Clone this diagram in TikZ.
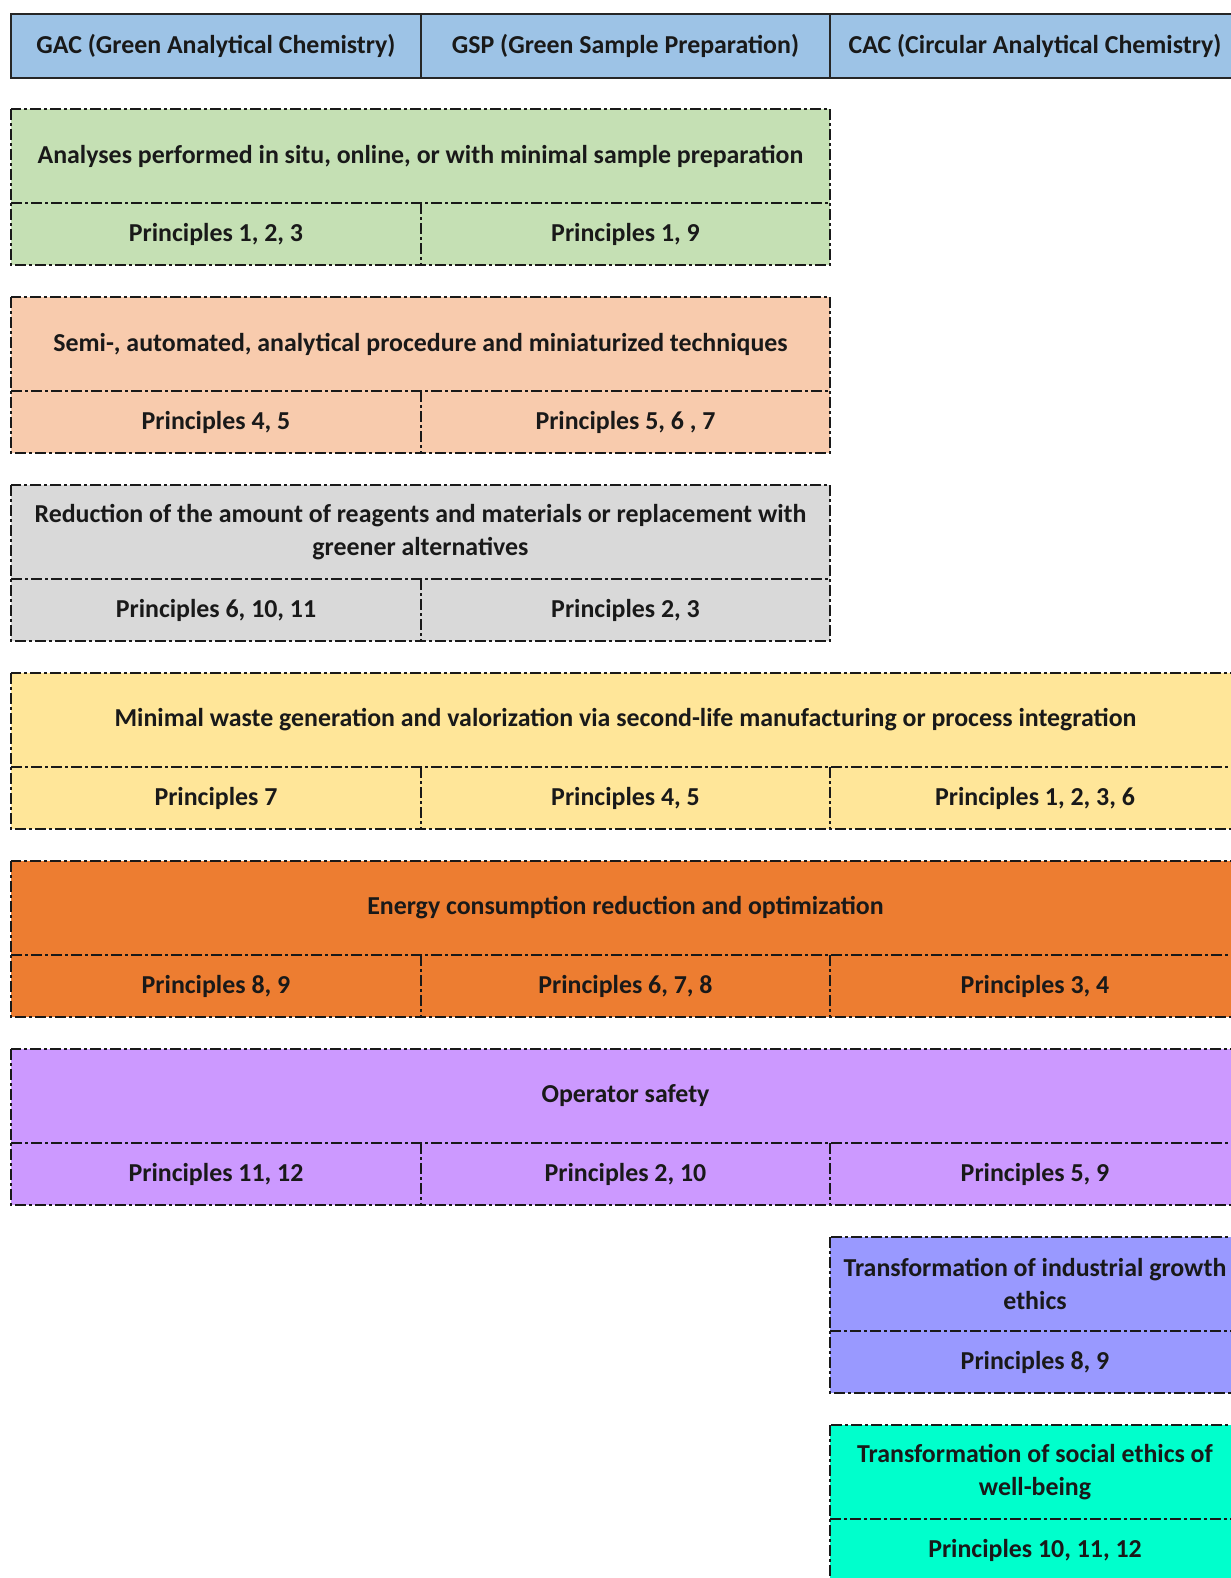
\documentclass[tikz,border=0pt]{standalone}
\usepackage{fontspec}
\setmainfont{Carlito}
\definecolor{hdrblue}{HTML}{9DC3E6}
\definecolor{cgreen}{HTML}{C5E0B4}
\definecolor{clorange}{HTML}{F8CBAD}
\definecolor{cgray}{HTML}{D9D9D9}
\definecolor{cyellow}{HTML}{FFE699}
\definecolor{cdorange}{HTML}{ED7D31}
\definecolor{cpurple}{HTML}{CC99FF}
\definecolor{cviolet}{HTML}{9999FF}
\definecolor{cteal}{HTML}{00FFCC}
% #1 top, #2 left, #3 right, #4 colour
\newcommand\cellframe[4]{%
  \fill[#4] (#2,#1) rectangle (#3,#1+156);
  \draw[dd] (#2,#1) rectangle (#3,#1+156);
  \draw[dd] (#2,#1+94) -- (#3,#1+94);
}
\begin{document}
\begin{tikzpicture}[x=0.75pt,y=-0.75pt,
  lbl/.style={font=\fontsize{19.4pt}{24.5pt}\selectfont\bfseries, align=center, inner sep=0pt, text=black!90},
  dd/.style={line width=1.9pt, draw=black!90, dash pattern=on 8pt off 2.6pt on 1.8pt off 2.6pt},
  hdr/.style={draw=black!85, line width=1.8pt, fill=hdrblue}]
\useasboundingbox (0,0) rectangle (1231,1578);
\clip (0,0) rectangle (1231,1578);

% header
\draw[hdr] (11,14) rectangle (1240,78);
\draw[black!85, line width=1.8pt] (421,14) -- (421,78) (830,14) -- (830,78);
\node[lbl] (hGAC) at (216,46) {GAC (Green Analytical Chemistry)};
\node[lbl] (hGSP) at (625.5,46) {GSP (Green Sample Preparation)};
\node[lbl] (hCAC) at (1035,46) {CAC (Circular Analytical Chemistry)};

% green
\cellframe{109}{11}{830}{cgreen}
\draw[dd] (421,203) -- (421,265);
\node[lbl] (g0) at (420.5,156) {Analyses performed in situ, online, or with minimal sample preparation};
\node[lbl] (g1) at (216,234) {Principles 1, 2, 3};
\node[lbl] (g2) at (625.5,234) {Principles 1, 9};

% light orange
\cellframe{297}{11}{830}{clorange}
\draw[dd] (421,391) -- (421,453);
\node[lbl] (o0) at (420.5,344) {Semi-, automated, analytical procedure and miniaturized techniques};
\node[lbl] (o1) at (216,422) {Principles 4, 5};
\node[lbl] (o2) at (625.5,422) {Principles 5, 6 , 7};

% gray
\cellframe{485}{11}{830}{cgray}
\draw[dd] (421,579) -- (421,641);
\node[lbl] (r0) at (420.5,532) {Reduction of the amount of reagents and materials or replacement with\\greener alternatives};
\node[lbl] (r1) at (216,610) {Principles 6, 10, 11};
\node[lbl] (r2) at (625.5,610) {Principles 2, 3};

% yellow
\cellframe{673}{11}{1240}{cyellow}
\draw[dd] (421,767) -- (421,829) (830,767) -- (830,829);
\node[lbl] (y0) at (625.5,720) {Minimal waste generation and valorization via second-life manufacturing or process integration};
\node[lbl] (y1) at (216,798) {Principles 7};
\node[lbl] (y2) at (625.5,798) {Principles 4, 5};
\node[lbl] (y3) at (1035,798) {Principles 1, 2, 3, 6};

% dark orange
\cellframe{861}{11}{1240}{cdorange}
\draw[dd] (421,955) -- (421,1017) (830,955) -- (830,1017);
\node[lbl] (e0) at (625.5,908) {Energy consumption reduction and optimization};
\node[lbl] (e1) at (216,986) {Principles 8, 9};
\node[lbl] (e2) at (625.5,986) {Principles 6, 7, 8};
\node[lbl] (e3) at (1035,986) {Principles 3, 4};

% purple
\cellframe{1049}{11}{1240}{cpurple}
\draw[dd] (421,1143) -- (421,1205) (830,1143) -- (830,1205);
\node[lbl] (s0) at (625.5,1096) {Operator safety};
\node[lbl] (s1) at (216,1174) {Principles 11, 12};
\node[lbl] (s2) at (625.5,1174) {Principles 2, 10};
\node[lbl] (s3) at (1035,1174) {Principles 5, 9};

% violet
\cellframe{1237}{830}{1240}{cviolet}
\node[lbl] (i0) at (1035,1284) {Transformation of industrial growth\\ethics};
\node[lbl] (i1) at (1035,1362) {Principles 8, 9};

% teal
\cellframe{1425}{830}{1240}{cteal}
\node[lbl] (w0) at (1035,1472) {Transformation of social ethics of\\well-being};
\node[lbl] (w1) at (1035,1550) {Principles 10, 11, 12};
\end{tikzpicture}
\end{document}
